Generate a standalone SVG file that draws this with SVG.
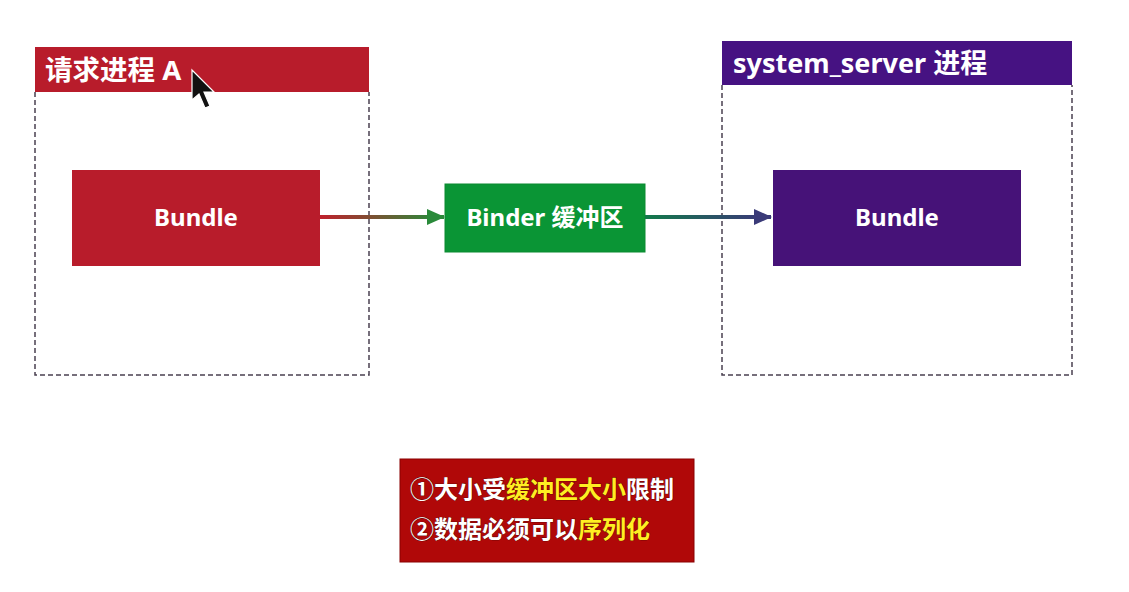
<svg xmlns="http://www.w3.org/2000/svg" width="1129" height="592" viewBox="0 0 1129 592">
<style>
.proc{fill:none;stroke:#4a4050;stroke-width:1.5;stroke-dasharray:5,3}
.t{font-family:"Noto Sans","Noto Sans CJK SC",sans-serif;font-weight:bold;fill:#fff}
.node{font-size:24px}
.note{font-size:24px;font-family:"Noto Sans CJK SC",sans-serif;font-weight:bold;fill:#fff;stroke:#3a0000;stroke-width:0.6;paint-order:stroke}
.y{fill:#ffee22}
</style>
<defs>
<linearGradient id="g1" gradientUnits="userSpaceOnUse" x1="320" y1="0" x2="435" y2="0">
<stop offset="0" stop-color="#c0202c"/><stop offset="1" stop-color="#2a8a3a"/>
</linearGradient>
<linearGradient id="g2" gradientUnits="userSpaceOnUse" x1="645" y1="0" x2="760" y2="0">
<stop offset="0" stop-color="#127a4a"/><stop offset="1" stop-color="#3a3a78"/>
</linearGradient>
<marker id="a1" markerWidth="18" markerHeight="16" refX="17" refY="8" orient="auto" markerUnits="userSpaceOnUse" viewBox="0 0 18 16">
<path d="M0,0 L18,8 L0,16 Z" fill="#2a8a3a"/>
</marker>
<marker id="a2" markerWidth="18" markerHeight="16" refX="17" refY="8" orient="auto" markerUnits="userSpaceOnUse" viewBox="0 0 18 16">
<path d="M0,0 L18,8 L0,16 Z" fill="#3a3a78"/>
</marker>
</defs>
<rect width="1129" height="592" fill="#fff"/>
<g id="procA">
<path class="proc" d="M35,92 V375 H369 V92"/>
<rect x="35" y="47" width="334" height="45" fill="#b81c2b"/>
<text class="t" x="45" y="80" font-size="27.5">请求进程 A</text>
</g>
<g id="procS">
<path class="proc" d="M722,85 V375 H1072 V85"/>
<rect x="722" y="41" width="350" height="44" fill="#461282"/>
<text class="t" x="733" y="73" font-size="27">system_server 进程</text>
</g>
<g id="bundleA">
<rect x="72" y="170" width="248" height="96" fill="#b81c2b"/>
<text class="t node" x="196" y="226" text-anchor="middle">Bundle</text>
</g>
<g id="binder">
<rect x="445" y="184" width="200" height="68" fill="#0a9535" stroke="#0b8a30" stroke-width="1"/>
<text class="t node" x="545" y="226" text-anchor="middle">Binder 缓冲区</text>
</g>
<g id="bundleS">
<rect x="773" y="170" width="248" height="96" fill="#461278"/>
<text class="t node" x="897" y="226" text-anchor="middle">Bundle</text>
</g>
<g id="connectors">
<line x1="320" y1="217" x2="444" y2="217" stroke="url(#g1)" stroke-width="4" marker-end="url(#a1)"/>
<line x1="645" y1="217" x2="771" y2="217" stroke="url(#g2)" stroke-width="4" marker-end="url(#a2)"/>
</g>
<g id="note">
<rect x="400" y="459" width="294" height="103" fill="#b00808" stroke="#8a0000" stroke-width="1"/>
<text class="note" x="410" y="498">①大小受<tspan class="y">缓冲区大小</tspan>限制</text>
<text class="note" x="410" y="538">②数据必须可以<tspan class="y">序列化</tspan></text>
</g>
<g id="cursor">
<path d="M192,70 L192,100 L199,94 L205,108 L210,106 L204,92 L214,92 Z" fill="#111" stroke="#fff" stroke-width="1.2"/>
</g>
</svg>
